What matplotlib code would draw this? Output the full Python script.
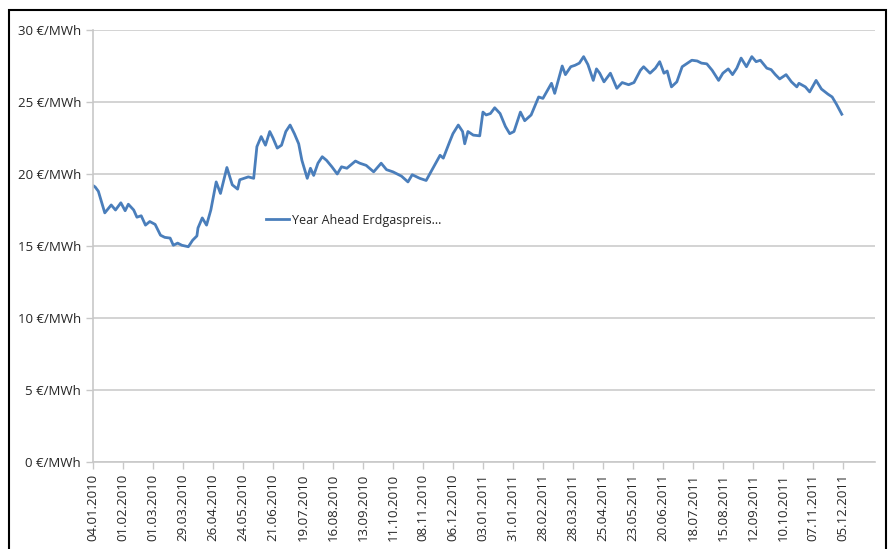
import matplotlib
matplotlib.use("Agg")
import matplotlib.pyplot as plt
import matplotlib.dates as mdates
from matplotlib.patches import Rectangle
from matplotlib.ticker import FuncFormatter, MultipleLocator
import pandas as pd

# days since 04.01.2010 and Year-Ahead gas price in EUR/MWh
day_offset = [
    0, 2, 5, 11, 17, 21, 26, 30, 33, 38, 41, 45, 49, 53, 58, 63, 67, 72, 75, 79,
    83, 89, 93, 97, 98, 102, 106, 110, 115, 119, 125, 130, 135, 137, 145, 150,
    153, 157, 161, 165, 168, 172, 176, 180, 184, 188, 192, 195, 200, 203, 206,
    210, 214, 218, 223, 228, 232, 237, 245, 249, 255, 262, 269, 274, 280, 288,
    294, 298, 305, 311, 318, 324, 327, 333, 336, 341, 345, 347, 350, 355, 361,
    364, 367, 371, 375, 380, 385, 389, 393, 399, 403, 409, 416, 420, 425, 428,
    431, 438, 441, 446, 450, 454, 458, 462, 467, 470, 473, 477, 483, 489, 494,
    500, 505, 511, 514, 520, 525, 529, 533, 536, 540, 545, 550, 554, 559, 564,
    568, 573, 578, 584, 588, 593, 597, 601, 605, 610, 615, 619, 623, 629, 633,
    637, 641, 647, 652, 657, 659, 665, 669, 675, 680, 686, 690, 694, 699,
]
price = [
    19.2, 19.1, 18.8, 17.3, 17.85, 17.5, 18.0, 17.45, 17.9, 17.5, 17.0, 17.1,
    16.45, 16.7, 16.5, 15.75, 15.6, 15.55, 15.05, 15.2, 15.05, 14.95, 15.4,
    15.7, 16.25, 16.95, 16.45, 17.5, 19.45, 18.65, 20.45, 19.25, 18.95, 19.6,
    19.8, 19.7, 21.9, 22.6, 22.0, 22.95, 22.5, 21.8, 22.0, 22.95, 23.4, 22.8,
    22.1, 20.95, 19.7, 20.4, 19.9, 20.75, 21.2, 20.95, 20.5, 20.0, 20.5, 20.4,
    20.9, 20.75, 20.6, 20.15, 20.75, 20.3, 20.15, 19.85, 19.45, 19.95, 19.7,
    19.55, 20.5, 21.3, 21.1, 22.25, 22.8, 23.4, 22.95, 22.1, 22.95, 22.7, 22.65,
    24.3, 24.1, 24.2, 24.6, 24.2, 23.3, 22.8, 22.95, 24.3, 23.7, 24.1, 25.35,
    25.25, 25.9, 26.3, 25.6, 27.5, 26.9, 27.45, 27.55, 27.7, 28.15, 27.6, 26.5,
    27.3, 27.0, 26.4, 27.0, 25.95, 26.35, 26.2, 26.35, 27.2, 27.45, 27.0, 27.35,
    27.8, 27.0, 27.15, 26.05, 26.4, 27.45, 27.65, 27.9, 27.85, 27.7, 27.65,
    27.2, 26.5, 27.0, 27.3, 26.9, 27.35, 28.05, 27.45, 28.15, 27.8, 27.9, 27.35,
    27.25, 26.9, 26.6, 26.9, 26.4, 26.05, 26.3, 26.05, 25.7, 26.5, 25.9, 25.55,
    25.35, 24.85, 24.15,
]
series_name = "Year Ahead Erdgaspreis..."
start = pd.Timestamp("2010-01-04")
tick_dates = pd.date_range("2010-01-04", "2011-12-05", freq="28D")

dates = start + pd.to_timedelta(day_offset, unit="D")

plt.rcParams["font.family"] = ["Open Sans", "DejaVu Sans"]

fig = plt.figure(figsize=(8.88, 5.49), dpi=100)
ax = fig.add_axes([93 / 888, 1 - 462 / 549, (875 - 93) / 888, (462 - 30) / 549])

ax.plot(dates, price, color="#4a7ebb", lw=2, label=series_name)

ax.set_ylim(0, 30)
ax.set_xlim(start, start + pd.Timedelta(days=730))
ax.yaxis.set_major_locator(MultipleLocator(5))
ax.yaxis.set_major_formatter(FuncFormatter(lambda v, p: f"{v:.0f} €/MWh"))
ax.set_xticks(tick_dates)
ax.xaxis.set_major_formatter(mdates.DateFormatter("%d.%m.%Y"))

ax.grid(axis="y", color="#d0d0d0", lw=1.3)
ax.set_axisbelow(True)
for s in ["top", "right"]:
    ax.spines[s].set_visible(False)
for s in ["left", "bottom"]:
    ax.spines[s].set_color("#c8c8c8")
    ax.spines[s].set_linewidth(1.2)
ax.tick_params(axis="both", color="#c8c8c8", length=5, width=1, labelsize=9.5,
               labelcolor="#262626")
ax.tick_params(axis="x", rotation=90)

ax.legend(loc="center left", bbox_to_anchor=(0.215, 0.56), frameon=False,
          fontsize=9, handlelength=1.8, handletextpad=0.25, borderaxespad=0,
          labelcolor="#262626")

fig.patches.append(Rectangle((9 / 888, -0.01), (886 - 9) / 888, 1 - 10 / 549 + 0.01,
                             transform=fig.transFigure, fill=False,
                             edgecolor="black", lw=1.5))

fig.savefig("out.png", dpi=100)
